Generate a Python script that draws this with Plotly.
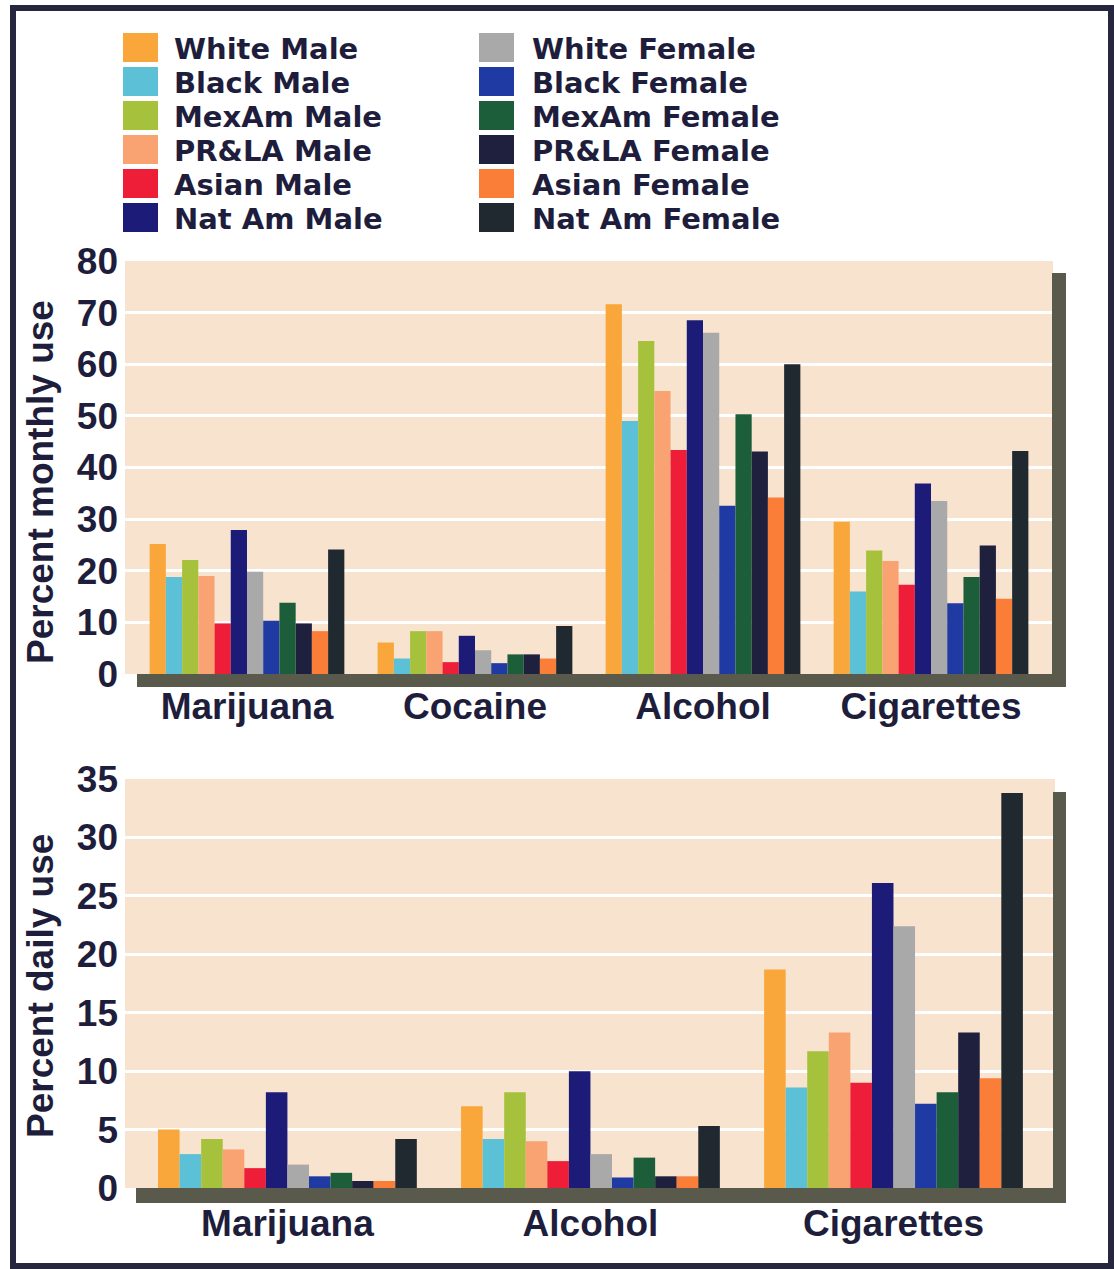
import plotly.graph_objects as go

W, H = 1114, 1269

series = ["White Male", "Black Male", "MexAm Male", "PR&LA Male", "Asian Male", "Nat Am Male",
          "White Female", "Black Female", "MexAm Female", "PR&LA Female", "Asian Female", "Nat Am Female"]
colors = ["#F9A63A", "#5CC0D6", "#A6C23C", "#F9A272", "#EE1D38", "#1C1C78",
          "#A9A9A9", "#1F3AA2", "#1C5E3A", "#1F1F3E", "#FA7E38", "#202830"]

monthly_cats = ["Marijuana", "Cocaine", "Alcohol", "Cigarettes"]
daily_cats = ["Marijuana", "Alcohol", "Cigarettes"]

# Percent monthly use, per series: [Marijuana, Cocaine, Alcohol, Cigarettes]
white_male_m = [25.2, 6.1, 71.6, 29.5]
black_male_m = [18.8, 3.0, 49.0, 16.0]
mexam_male_m = [22.1, 8.3, 64.5, 23.9]
prla_male_m = [19.0, 8.3, 54.8, 21.9]
asian_male_m = [9.8, 2.3, 43.4, 17.3]
natam_male_m = [27.9, 7.4, 68.5, 36.9]
white_female_m = [19.8, 4.6, 66.1, 33.5]
black_female_m = [10.3, 2.1, 32.6, 13.7]
mexam_female_m = [13.8, 3.8, 50.3, 18.8]
prla_female_m = [9.8, 3.8, 43.1, 24.9]
asian_female_m = [8.3, 3.0, 34.2, 14.6]
natam_female_m = [24.1, 9.3, 60.0, 43.2]

# Percent daily use, per series: [Marijuana, Alcohol, Cigarettes]
white_male_d = [5.0, 7.0, 18.7]
black_male_d = [2.9, 4.2, 8.6]
mexam_male_d = [4.2, 8.2, 11.7]
prla_male_d = [3.3, 4.0, 13.3]
asian_male_d = [1.7, 2.3, 9.0]
natam_male_d = [8.2, 10.0, 26.1]
white_female_d = [2.0, 2.9, 22.4]
black_female_d = [1.0, 0.9, 7.2]
mexam_female_d = [1.3, 2.6, 8.2]
prla_female_d = [0.6, 1.0, 13.3]
asian_female_d = [0.6, 1.0, 9.4]
natam_female_d = [4.2, 5.3, 33.8]

monthly = [white_male_m, black_male_m, mexam_male_m, prla_male_m, asian_male_m, natam_male_m,
           white_female_m, black_female_m, mexam_female_m, prla_female_m, asian_female_m, natam_female_m]
daily = [white_male_d, black_male_d, mexam_male_d, prla_male_d, asian_male_d, natam_male_d,
         white_female_d, black_female_d, mexam_female_d, prla_female_d, asian_female_d, natam_female_d]

monthly_ticks = [0, 10, 20, 30, 40, 50, 60, 70, 80]
daily_ticks = [0, 5, 10, 15, 20, 25, 30, 35]

FONT = "Liberation Sans, Arial, sans-serif"
LEG_FONT = "DejaVu Sans, Liberation Sans, sans-serif"
TXT = "#1E1E3C"
FS = 37


def px(x):
    return x / W


def py(y):
    return 1 - y / H


fig = go.Figure()
for name, col, m, d in zip(series, colors, monthly, daily):
    fig.add_trace(go.Bar(x=monthly_cats, y=m, name=name, marker=dict(color=col, line=dict(width=0)),
                         xaxis="x", yaxis="y", showlegend=False))
    fig.add_trace(go.Bar(x=daily_cats, y=d, name=name, marker=dict(color=col, line=dict(width=0)),
                         xaxis="x2", yaxis="y2", showlegend=False))

shapes = []
annotations = []

# Manual legend (two columns)
for i, (name, col) in enumerate(zip(series, colors)):
    colx = 0 if i < 6 else 1
    row = i % 6
    cy = 48 + 34 * row
    sx0 = 123 if colx == 0 else 479
    tx = 172 if colx == 0 else 530
    shapes.append(dict(type="rect", xref="paper", yref="paper",
                       x0=px(sx0), x1=px(sx0 + 35), y0=py(cy + 14), y1=py(cy - 15),
                       fillcolor=col, line=dict(width=0), layer="above"))
    annotations.append(dict(text="<b>%s</b>" % name, xref="paper", yref="paper",
                            x=px(tx), y=py(cy + 1), xanchor="left", yanchor="middle",
                            showarrow=False, font=dict(family=LEG_FONT, size=29, color=TXT)))

# Y titles
annotations.append(dict(text="<b>Percent monthly use</b>", xref="paper", yref="paper",
                        x=px(40), y=py(482), xanchor="center", yanchor="middle", textangle=-90,
                        showarrow=False, font=dict(family=FONT, size=FS, color=TXT)))
annotations.append(dict(text="<b>Percent daily use</b>", xref="paper", yref="paper",
                        x=px(40), y=py(986), xanchor="center", yanchor="middle", textangle=-90,
                        showarrow=False, font=dict(family=FONT, size=FS, color=TXT)))

# 3D floors and right walls
WALL = "#5A5A4C"
shapes += [
    dict(type="rect", xref="paper", yref="paper", x0=px(137), x1=px(1066), y0=py(687), y1=py(674),
         fillcolor=WALL, line=dict(width=0), layer="above"),
    dict(type="rect", xref="paper", yref="paper", x0=px(1052), x1=px(1066), y0=py(687), y1=py(273),
         fillcolor=WALL, line=dict(width=0), layer="above"),
    dict(type="rect", xref="paper", yref="paper", x0=px(136), x1=px(1066), y0=py(1203), y1=py(1188),
         fillcolor=WALL, line=dict(width=0), layer="above"),
    dict(type="rect", xref="paper", yref="paper", x0=px(1053), x1=px(1066), y0=py(1203), y1=py(792),
         fillcolor=WALL, line=dict(width=0), layer="above"),
    # outer frame
    dict(type="rect", xref="paper", yref="paper", x0=px(13), x1=px(1111), y0=py(1266), y1=py(8),
         fillcolor="rgba(0,0,0,0)", line=dict(width=6, color="#26263E"), layer="above"),
]

axis_font = dict(family=FONT, size=FS, color=TXT)

fig.update_layout(
    width=W, height=H,
    margin=dict(l=0, r=0, t=0, b=0, autoexpand=False),
    paper_bgcolor="white",
    plot_bgcolor="#F8E3CF",
    barmode="group",
    bargap=0.146,
    bargroupgap=0,
    showlegend=False,
    shapes=shapes,
    annotations=annotations,
    xaxis=dict(domain=[px(125), px(1053)], anchor="y", type="category", automargin=False,
               range=[-0.535, 3.535], showgrid=False, zeroline=False, showline=False,
               tickfont=axis_font, ticklabelstandoff=7,
               tickvals=monthly_cats, ticktext=["<b>%s</b>" % c for c in monthly_cats]),
    yaxis=dict(domain=[py(674), py(261)], anchor="x", range=[0, 80], automargin=False,
               tickvals=monthly_ticks, ticktext=["<b>%d</b>" % t for t in monthly_ticks],
               showgrid=True, gridcolor="white", gridwidth=3, zeroline=False, showline=False,
               tickfont=axis_font, ticklabelstandoff=6),
    xaxis2=dict(domain=[px(125), px(1055)], anchor="y2", type="category", automargin=False,
                range=[-0.536, 2.533], showgrid=False, zeroline=False, showline=False,
                tickfont=axis_font, ticklabelstandoff=10,
                tickvals=daily_cats, ticktext=["<b>%s</b>" % c for c in daily_cats]),
    yaxis2=dict(domain=[py(1188), py(779)], anchor="x2", range=[0, 35], automargin=False,
                tickvals=daily_ticks, ticktext=["<b>%d</b>" % t for t in daily_ticks],
                showgrid=True, gridcolor="white", gridwidth=3, zeroline=False, showline=False,
                tickfont=axis_font, ticklabelstandoff=6),
)

fig.write_html("out.html",
               config={"displayModeBar": False},
               post_script="document.body.style.margin='0';document.body.style.padding='0';")
